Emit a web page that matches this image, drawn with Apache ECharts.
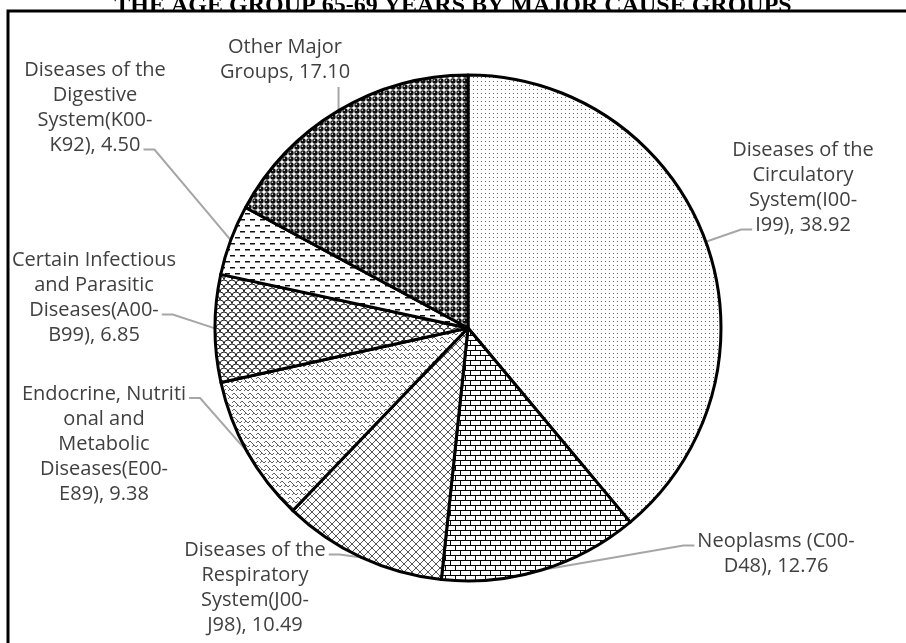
<!DOCTYPE html>
<html>
<head>
<meta charset="utf-8">
<title>Deaths in the age group 65-69 years by major cause groups</title>
<script src="https://cdn.jsdelivr.net/npm/echarts@6/dist/echarts.min.js"></script>
<style>
  html, body { margin: 0; padding: 0; background: #fff; }
  #chart { width: 906px; height: 643px; }
</style>
</head>
<body>
<div id="chart"></div>
<script>
'use strict';

// data, clockwise from 12 o'clock
var categories = [
  'Diseases of the Circulatory System(I00-I99)',
  'Neoplasms (C00-D48)',
  'Diseases of the Respiratory System(J00-J98)',
  'Endocrine, Nutritional and Metabolic Diseases(E00-E89)',
  'Certain Infectious and Parasitic Diseases(A00-B99)',
  'Diseases of the Digestive System(K00-K92)',
  'Other Major Groups'
];
var values = [38.92, 12.76, 10.49, 9.38, 6.85, 4.50, 17.10];

// label text as wrapped in the original
var labelLines = [
  ['Diseases of the', 'Circulatory', 'System(I00-', 'I99)'],
  ['Neoplasms (C00-', 'D48)'],
  ['Diseases of the', 'Respiratory', 'System(J00-', 'J98)'],
  ['Endocrine, Nutriti', 'onal and', 'Metabolic', 'Diseases(E00-', 'E89)'],
  ['Certain Infectious', 'and Parasitic', 'Diseases(A00-', 'B99)'],
  ['Diseases of the', 'Digestive', 'System(K00-', 'K92)'],
  ['Other Major', 'Groups']
];

// label block centres and where the leader line meets the label (layout only)
var labelPos = [[803, 188], [776, 554], [255, 588], [104, 444], [94, 298], [95, 108], [285, 60]];
var attach = [[3, 'left'], [0, 'left'], [0, 'right'], [0, 'right'], [2, 'right'], [3, 'right'], [1, 'bottom']];

var FONT = 'Open Sans';
var FONT_SIZE = 20;
var LINE_H = 25;

var measureCtx = document.createElement('canvas').getContext('2d');
measureCtx.font = FONT_SIZE + 'px "' + FONT + '"';

function labelText(i) {
  var l = labelLines[i].slice();
  l[l.length - 1] += ', ' + values[i].toFixed(2);
  return l;
}

function tile(w, h, draw) {
  var c = document.createElement('canvas');
  c.width = w;
  c.height = h;
  var g = c.getContext('2d');
  g.fillStyle = '#fff';
  g.fillRect(0, 0, w, h);
  draw(g);
  return { image: c, repeat: 'repeat' };
}

function line(g, pts) {
  g.beginPath();
  g.moveTo(pts[0][0], pts[0][1]);
  for (var i = 1; i < pts.length; i++) g.lineTo(pts[i][0], pts[i][1]);
  g.stroke();
}

var patterns = [
  // dotted
  tile(4, 4, function (g) {
    g.fillStyle = '#666';
    g.fillRect(1, 1, 1, 1);
  }),
  // bricks
  tile(10, 10, function (g) {
    g.strokeStyle = '#000';
    g.lineWidth = 1;
    line(g, [[0, 0.5], [10, 0.5]]);
    line(g, [[0, 5.5], [10, 5.5]]);
    line(g, [[0.5, 0], [0.5, 5.5]]);
    line(g, [[5.5, 5.5], [5.5, 10]]);
  }),
  // diagonal cross hatch
  tile(8, 8, function (g) {
    g.strokeStyle = '#555';
    g.lineWidth = 1;
    line(g, [[0, 0], [8, 8]]);
    line(g, [[8, 0], [0, 8]]);
  }),
  // weave
  tile(8, 8, function (g) {
    g.strokeStyle = '#666';
    g.lineWidth = 1;
    line(g, [[0, 3], [2, 1], [4, 3]]);
    line(g, [[4, 7], [6, 5], [8, 7]]);
    line(g, [[4, 3], [6, 5]]);
    line(g, [[0, 7], [2, 5]]);
  }),
  // scales
  tile(8, 8, function (g) {
    g.strokeStyle = '#222';
    g.lineWidth = 1;
    g.beginPath(); g.arc(4, 8, 4, Math.PI, 2 * Math.PI); g.stroke();
    g.beginPath(); g.arc(0, 4, 4, Math.PI, 2 * Math.PI); g.stroke();
    g.beginPath(); g.arc(8, 4, 4, Math.PI, 2 * Math.PI); g.stroke();
  }),
  // dashes
  tile(10, 12, function (g) {
    g.fillStyle = '#111';
    g.fillRect(0, 3, 5, 1.5);
    g.fillRect(5, 9, 5, 1.5);
  }),
  // spheres
  tile(6, 6, function (g) {
    g.fillStyle = '#111';
    g.beginPath(); g.arc(3, 3, 2.7, 0, 2 * Math.PI); g.fill();
    g.fillStyle = '#eee';
    g.beginPath(); g.arc(2.3, 2.3, 0.8, 0, 2 * Math.PI); g.fill();
  })
];

var pieData = categories.map(function (name, i) {
  return {
    name: name,
    value: values[i],
    itemStyle: { color: patterns[i] }
  };
});

// leader line: from the slice edge to the end of one text line
function leader(i, edge) {
  var pos = labelPos[i];
  var lines = labelText(i);
  var k = attach[i][0];
  var side = attach[i][1];
  var top = pos[1] - lines.length * LINE_H / 2;
  var w = measureCtx.measureText(lines[k]).width;
  var y = top + (k + 0.5) * LINE_H + 4;
  if (side === 'bottom') {
    var by = top + lines.length * LINE_H + 2;
    return [edge, [edge[0], by], [edge[0], by]];
  }
  var bx = side === 'left' ? pos[0] - w / 2 - 3 : pos[0] + w / 2 + 3;
  var cx = side === 'left' ? bx - 11 : bx + 11;
  return [edge, [cx, y], [bx, y]];
}

var option = {
  animation: false,
  backgroundColor: '#fff',
  title: {
    text: 'THE AGE GROUP 65-69 YEARS BY MAJOR CAUSE GROUPS',
    left: 'center',
    top: -11,
    textStyle: {
      fontFamily: 'Liberation Serif',
      fontWeight: 'bold',
      fontSize: 24,
      color: '#000'
    }
  },
  graphic: [{
    type: 'rect',
    shape: { x: 8, y: 11, width: 1000, height: 1000 },
    style: { fill: 'none', stroke: '#000', lineWidth: 3 },
    z: 0
  }],
  series: [{
    type: 'pie',
    center: [468, 328],
    radius: 253,
    startAngle: 90,
    clockwise: true,
    data: pieData,
    itemStyle: { borderColor: '#000', borderWidth: 3 },
    emphasis: { disabled: true },
    label: {
      show: true,
      fontFamily: FONT,
      fontSize: FONT_SIZE,
      lineHeight: LINE_H,
      color: '#404040',
      align: 'center',
      formatter: function (p) {
        return labelText(p.dataIndex).join('\n');
      }
    },
    labelLine: {
      show: true,
      length: 10,
      length2: 10,
      lineStyle: { color: '#a6a6a6', width: 2 }
    },
    labelLayout: function (params) {
      var i = params.dataIndex;
      var p = labelPos[i];
      return {
        x: p[0],
        y: p[1],
        align: 'center',
        verticalAlign: 'middle',
        labelLinePoints: leader(i, params.labelLinePoints[0])
      };
    }
  }]
};

var myChart = echarts.init(document.getElementById('chart'));
myChart.setOption(option);
</script>
</body>
</html>
